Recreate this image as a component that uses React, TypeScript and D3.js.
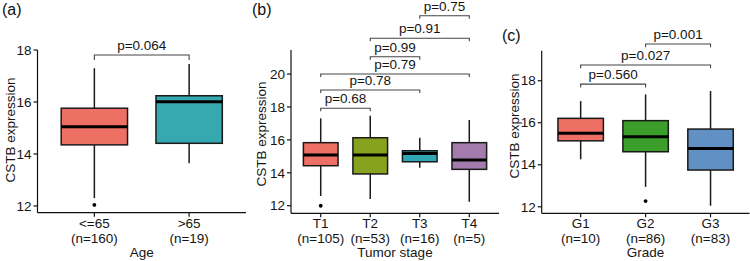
import React from "react";
import * as d3 from "d3";

// ---------- Panel (a): Age ----------
const ageCategories = ["<=65", ">65"];
const ageCounts = [160, 19];
const ageLower = [12.3, 13.64];
const ageQ1 = [14.35, 14.41];
const ageMedian = [15.05, 16.01];
const ageQ3 = [15.76, 16.24];
const ageUpper = [17.3, 17.46];
const ageOutliers = [[12.04], []];
const ageColors = ["#EE6F63", "#35A8B0"];
const ageComparisons: [number, number][] = [[0, 1]];
const ageP = ["p=0.064"];
const ageBracketY = [17.81];
const ageTicks = [12, 14, 16, 18];

// ---------- Panel (b): Tumor stage ----------
const stageCategories = ["T1", "T2", "T3", "T4"];
const stageCounts = [105, 53, 16, 5];
const stageLower = [12.59, 12.41, 14.31, 12.24];
const stageQ1 = [14.43, 13.93, 14.67, 14.21];
const stageMedian = [15.08, 15.08, 15.18, 14.78];
const stageQ3 = [15.83, 16.13, 15.34, 15.83];
const stageUpper = [17.31, 17.47, 16.13, 17.21];
const stageOutliers = [[12.0], [], [], []];
const stageColors = ["#EE6F63", "#86A21F", "#2FA8B3", "#A37BAC"];
const stageComparisons: [number, number][] = [[0, 1], [0, 2], [0, 3], [1, 2], [1, 3], [2, 3]];
const stageP = ["p=0.68", "p=0.78", "p=0.79", "p=0.99", "p=0.91", "p=0.75"];
const stageBracketY = [17.92, 19.03, 20.0, 21.05, 22.17, 23.54];
const stageTicks = [12, 14, 16, 18, 20];

// ---------- Panel (c): Grade ----------
const gradeCategories = ["G1", "G2", "G3"];
const gradeCounts = [10, 86, 83];
const gradeLower = [14.26, 12.95, 12.05];
const gradeQ1 = [15.14, 14.62, 13.75];
const gradeMedian = [15.5, 15.33, 14.78];
const gradeQ3 = [16.21, 16.1, 15.7];
const gradeUpper = [17.03, 17.35, 17.51];
const gradeOutliers = [[], [12.27], []];
const gradeColors = ["#EE6F63", "#3C9E2A", "#6090C4"];
const gradeComparisons: [number, number][] = [[0, 1], [0, 2], [1, 2]];
const gradeP = ["p=0.560", "p=0.027", "p=0.001"];
const gradeBracketY = [17.84, 18.75, 19.75];
const gradeTicks = [12, 14, 16, 18];

const FONT = "'Liberation Sans', Arial, Helvetica, sans-serif";
const TEXT = "#151515";
const FS = 13.5;

type PanelProps = {
  tag: string;
  tagX: number;
  tagY: number;
  axisX: number;
  right: number;
  top: number;
  bottom: number;
  yDomain: [number, number];
  ticks: number[];
  categories: string[];
  counts: number[];
  lower: number[];
  q1: number[];
  median: number[];
  q3: number[];
  upper: number[];
  outliers: number[][];
  colors: string[];
  comparisons: [number, number][];
  pLabels: string[];
  bracketY: number[];
  tipPx: number;
  xTitle: string;
  yLabelX: number;
  yLabelY: number;
};

function Panel(p: PanelProps) {
  const n = p.categories.length;
  const x = d3.scaleLinear().domain([0.4, n + 0.6]).range([p.axisX, p.right]);
  const y = d3.scaleLinear().domain(p.yDomain).range([p.bottom, p.top]);
  const bw = x(1.35) - x(1);
  return (
    <g fontFamily={FONT}>
      <text x={p.tagX} y={p.tagY} fontSize={16} fill="#111">{p.tag}</text>
      {p.categories.map((c, i) => {
        const cx = x(i + 1);
        return (
          <g key={c}>
            <line x1={cx} x2={cx} y1={y(p.upper[i])} y2={y(p.q3[i])} stroke="#1a1a1a" strokeWidth={1.5} />
            <line x1={cx} x2={cx} y1={y(p.q1[i])} y2={y(p.lower[i])} stroke="#1a1a1a" strokeWidth={1.5} />
            <rect x={cx - bw} y={y(p.q3[i])} width={2 * bw} height={y(p.q1[i]) - y(p.q3[i])}
              fill={p.colors[i]} stroke="#1a1a1a" strokeWidth={1.5} />
            <line x1={cx - bw} x2={cx + bw} y1={y(p.median[i])} y2={y(p.median[i])} stroke="#000" strokeWidth={3} />
            {p.outliers[i].map((o, j) => (
              <circle key={j} cx={cx} cy={y(o)} r={1.9} fill="#000" />
            ))}
          </g>
        );
      })}
      <line x1={p.axisX} x2={p.axisX} y1={p.top} y2={p.bottom} stroke="#111" strokeWidth={1.2} />
      <line x1={p.axisX} x2={p.right} y1={p.bottom} y2={p.bottom} stroke="#111" strokeWidth={1.2} />
      {p.ticks.map((t) => (
        <g key={t}>
          <line x1={p.axisX - 4} x2={p.axisX} y1={y(t)} y2={y(t)} stroke="#111" strokeWidth={1.2} />
          <text x={p.axisX - 6} y={y(t)} dy="0.35em" textAnchor="end" fontSize={FS} fill={TEXT}>{t}</text>
        </g>
      ))}
      {p.categories.map((c, i) => (
        <g key={c}>
          <line x1={x(i + 1)} x2={x(i + 1)} y1={p.bottom} y2={p.bottom + 4} stroke="#111" strokeWidth={1.2} />
          <text x={x(i + 1)} y={p.bottom + 15} textAnchor="middle" fontSize={FS} fill={TEXT}>{c}</text>
          <text x={x(i + 1)} y={p.bottom + 30} textAnchor="middle" fontSize={FS} fill={TEXT}>{`(n=${p.counts[i]})`}</text>
        </g>
      ))}
      <text x={(p.axisX + p.right) / 2} y={p.bottom + 44} textAnchor="middle" fontSize={FS} fill={TEXT}>{p.xTitle}</text>
      <text transform={`translate(${p.yLabelX},${p.yLabelY}) rotate(-90)`} textAnchor="middle" dy="0.35em" fontSize={FS} fill={TEXT}>CSTB expression</text>
      {p.comparisons.map(([a, b], k) => {
        const yy = y(p.bracketY[k]);
        const x1 = x(a + 1);
        const x2 = x(b + 1);
        return (
          <g key={k}>
            <path d={`M${x1},${yy + p.tipPx}V${yy}H${x2}V${yy + p.tipPx}`} fill="none" stroke="#444" strokeWidth={1.1} />
            <text x={(x1 + x2) / 2} y={yy - 5} textAnchor="middle" fontSize={FS} fill={TEXT}>{p.pLabels[k]}</text>
          </g>
        );
      })}
    </g>
  );
}

export default function App() {
  return (
    <svg width={750} height={261} style={{ position: "absolute", left: 0, top: 0, background: "#fff" }}>
      <rect width={750} height={261} fill="#fff" />
      <Panel tag="(a)" tagX={2} tagY={15} axisX={37.5} right={246} top={50} bottom={212.7}
        yDomain={[11.74, 18.0]} ticks={ageTicks} categories={ageCategories} counts={ageCounts}
        lower={ageLower} q1={ageQ1} median={ageMedian} q3={ageQ3} upper={ageUpper} outliers={ageOutliers}
        colors={ageColors} comparisons={ageComparisons} pLabels={ageP} bracketY={ageBracketY} tipPx={5}
        xTitle="Age" yLabelX={10} yLabelY={130} />
      <Panel tag="(b)" tagX={252} tagY={15} axisX={291} right={499} top={50} bottom={213.3}
        yDomain={[11.54, 21.46]} ticks={stageTicks} categories={stageCategories} counts={stageCounts}
        lower={stageLower} q1={stageQ1} median={stageMedian} q3={stageQ3} upper={stageUpper} outliers={stageOutliers}
        colors={stageColors} comparisons={stageComparisons} pLabels={stageP} bracketY={stageBracketY} tipPx={3}
        xTitle="Tumor stage" yLabelX={261} yLabelY={134} />
      <Panel tag="(c)" tagX={502} tagY={41} axisX={541.7} right={749.5} top={50.7} bottom={213.3}
        yDomain={[11.69, 19.43]} ticks={gradeTicks} categories={gradeCategories} counts={gradeCounts}
        lower={gradeLower} q1={gradeQ1} median={gradeMedian} q3={gradeQ3} upper={gradeUpper} outliers={gradeOutliers}
        colors={gradeColors} comparisons={gradeComparisons} pLabels={gradeP} bracketY={gradeBracketY} tipPx={3.3}
        xTitle="Grade" yLabelX={514} yLabelY={126} />
    </svg>
  );
}
